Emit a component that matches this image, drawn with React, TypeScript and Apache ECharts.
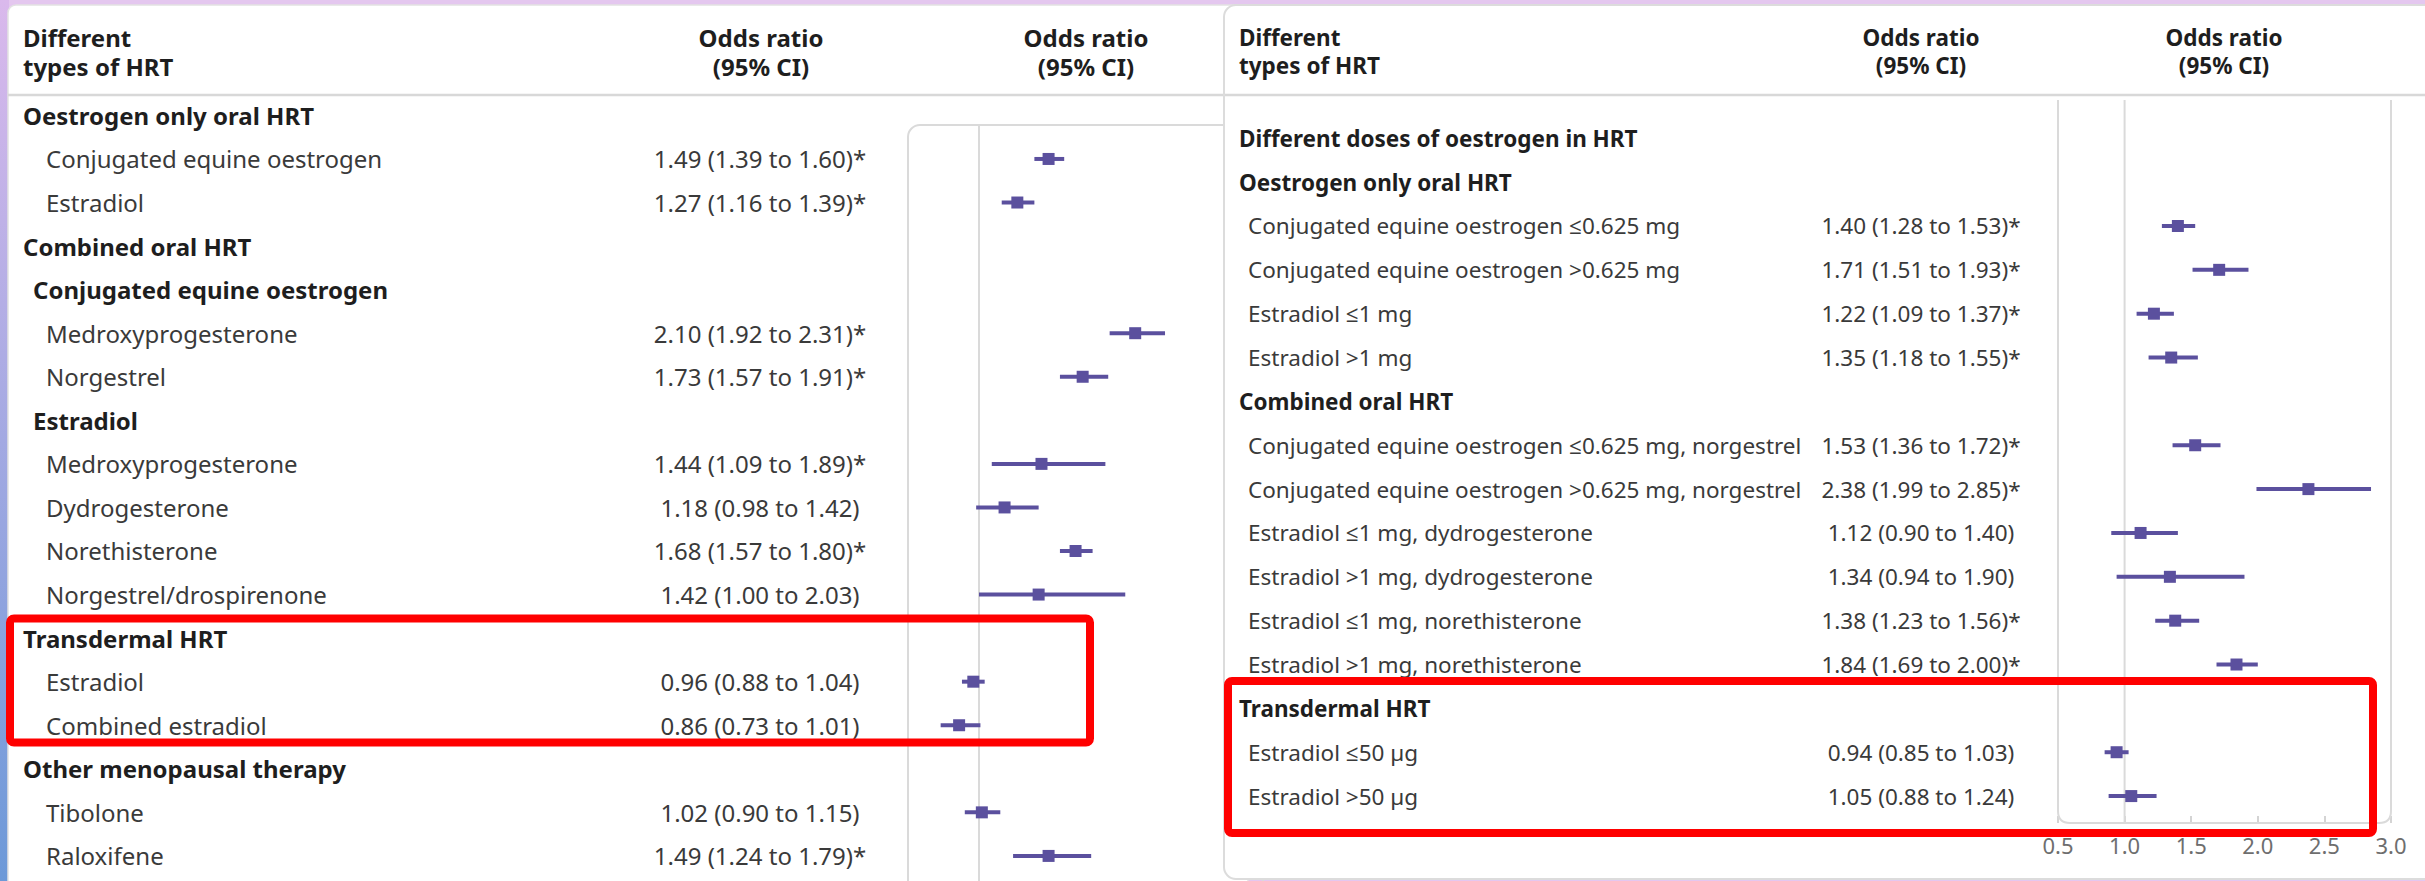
import React, { useEffect, useRef } from 'react';
import * as echarts from 'echarts';

// ---------- Data ----------
const TICKS = [0.5, 1.0, 1.5, 2.0, 2.5, 3.0];
const REF_VALUE = 1.0;

// level: 0 = group heading, 1 = sub heading, 2 = item
const leftLabels = [
  'Oestrogen only oral HRT',
  'Conjugated equine oestrogen',
  'Estradiol',
  'Combined oral HRT',
  'Conjugated equine oestrogen',
  'Medroxyprogesterone',
  'Norgestrel',
  'Estradiol',
  'Medroxyprogesterone',
  'Dydrogesterone',
  'Norethisterone',
  'Norgestrel/drospirenone',
  'Transdermal HRT',
  'Estradiol',
  'Combined estradiol',
  'Other menopausal therapy',
  'Tibolone',
  'Raloxifene',
];
const leftLevels = [0, 2, 2, 0, 1, 2, 2, 1, 2, 2, 2, 2, 0, 2, 2, 0, 2, 2];
const leftOR = [null, 1.49, 1.27, null, null, 2.10, 1.73, null, 1.44, 1.18, 1.68, 1.42, null, 0.96, 0.86, null, 1.02, 1.49];
const leftLo = [null, 1.39, 1.16, null, null, 1.92, 1.57, null, 1.09, 0.98, 1.57, 1.00, null, 0.88, 0.73, null, 0.90, 1.24];
const leftHi = [null, 1.60, 1.39, null, null, 2.31, 1.91, null, 1.89, 1.42, 1.80, 2.03, null, 1.04, 1.01, null, 1.15, 1.79];
const leftSig = [false, true, true, false, false, true, true, false, true, false, true, false, false, false, false, false, false, true];

const rightLabels = [
  'Different doses of oestrogen in HRT',
  'Oestrogen only oral HRT',
  'Conjugated equine oestrogen ≤0.625 mg',
  'Conjugated equine oestrogen >0.625 mg',
  'Estradiol ≤1 mg',
  'Estradiol >1 mg',
  'Combined oral HRT',
  'Conjugated equine oestrogen ≤0.625 mg, norgestrel',
  'Conjugated equine oestrogen >0.625 mg, norgestrel',
  'Estradiol ≤1 mg, dydrogesterone',
  'Estradiol >1 mg, dydrogesterone',
  'Estradiol ≤1 mg, norethisterone',
  'Estradiol >1 mg, norethisterone',
  'Transdermal HRT',
  'Estradiol ≤50 µg',
  'Estradiol >50 µg',
];
const rightLevels = [0, 0, 2, 2, 2, 2, 0, 2, 2, 2, 2, 2, 2, 0, 2, 2];
const rightOR = [null, null, 1.40, 1.71, 1.22, 1.35, null, 1.53, 2.38, 1.12, 1.34, 1.38, 1.84, null, 0.94, 1.05];
const rightLo = [null, null, 1.28, 1.51, 1.09, 1.18, null, 1.36, 1.99, 0.90, 0.94, 1.23, 1.69, null, 0.85, 0.88];
const rightHi = [null, null, 1.53, 1.93, 1.37, 1.55, null, 1.72, 2.85, 1.40, 1.90, 1.56, 2.00, null, 1.03, 1.24];
const rightSig = [false, false, true, true, true, true, false, true, true, false, false, true, true, false, false, false];

const headerLeft = 'Different\ntypes of HRT';
const headerOR = 'Odds ratio\n(95% CI)';

// ---------- Styles / layout ----------
const FONT = "'Noto Sans', 'Open Sans', sans-serif";
const BOLD_COLOR = '#1e1e1e';
const TEXT_COLOR = '#3a3a3a';
const MARK_COLOR = '#5b509e';
const FRAME_COLOR = '#dadada';

const X_MIN = TICKS[0];
const X_MAX = TICKS[TICKS.length - 1];

const LEFT = {
  grid: { left: 908, top: 125, width: 355, height: 756 },
  yMin: 0.2204,
  yMax: 17.5758,
  labelX: [23, 33, 46],
  orX: 760,
  headX: 23,
  orHeadX: [761, 1086],
  fs: 24,
  lh: 29,
};
const RIGHT = {
  grid: { left: 2058, top: 100, width: 333, height: 723 },
  yMin: -0.873,
  yMax: 15.614,
  labelX: [1239, 1239, 1248],
  orX: 1921,
  headX: 1239,
  orHeadX: [1921, 2224],
  fs: 22.5,
  lh: 28,
};

const fmt = (v: number) => v.toFixed(2);

function textSeries(idx: number, labels: string[], levels: number[], or: any[], lo: any[], hi: any[], sig: boolean[], cfg: any, z: number) {
  return {
    type: 'custom',
    xAxisIndex: idx,
    yAxisIndex: idx,
    z,
    silent: true,
    clip: false,
    data: labels.map((_, i) => [X_MIN, i]),
    renderItem: (params: any, api: any) => {
      const i = api.value(1);
      const y = api.coord([X_MIN, i])[1];
      const lvl = levels[i];
      const children: any[] = [
        {
          type: 'text',
          x: cfg.labelX[lvl],
          y,
          style: {
            text: labels[i],
            fill: lvl < 2 ? BOLD_COLOR : TEXT_COLOR,
            fontSize: cfg.fs,
            fontFamily: FONT,
            fontWeight: lvl < 2 ? 'bold' : 'normal',
            textAlign: 'left',
            textVerticalAlign: 'middle',
          },
        },
      ];
      if (or[i] != null) {
        children.push({
          type: 'text',
          x: cfg.orX,
          y,
          style: {
            text: `${fmt(or[i])} (${fmt(lo[i])} to ${fmt(hi[i])})${sig[i] ? '*' : ''}`,
            fill: TEXT_COLOR,
            fontSize: cfg.fs,
            fontFamily: FONT,
            textAlign: 'center',
            textVerticalAlign: 'middle',
          },
        });
      }
      return { type: 'group', children };
    },
  };
}

function forestSeries(idx: number, or: any[], lo: any[], hi: any[], z: number) {
  const data: any[] = [];
  or.forEach((v, i) => {
    if (v != null) data.push([v, i, lo[i], hi[i]]);
  });
  return {
    type: 'custom',
    xAxisIndex: idx,
    yAxisIndex: idx,
    z,
    silent: true,
    clip: false,
    encode: { x: 0, y: 1 },
    data,
    renderItem: (params: any, api: any) => {
      const p = api.coord([api.value(0), api.value(1)]);
      const a = api.coord([api.value(2), api.value(1)]);
      const b = api.coord([api.value(3), api.value(1)]);
      const s = 12;
      return {
        type: 'group',
        children: [
          {
            type: 'line',
            shape: { x1: a[0], y1: a[1], x2: b[0], y2: b[1] },
            style: { stroke: MARK_COLOR, lineWidth: 4 },
          },
          {
            type: 'rect',
            shape: { x: p[0] - s / 2, y: p[1] - s / 2, width: s, height: s },
            style: { fill: MARK_COLOR },
          },
        ],
      };
    },
  };
}

function frameSeries(idx: number, yMin: number, yMax: number, kind: 'left' | 'right', z: number) {
  return {
    type: 'custom',
    xAxisIndex: idx,
    yAxisIndex: idx,
    z,
    silent: true,
    clip: false,
    data: [[REF_VALUE, yMin]],
    renderItem: (params: any, api: any) => {
      const ref = api.value(0);
      const tl = api.coord([X_MIN, yMin]);
      const br = api.coord([X_MAX, yMax]);
      const rt = api.coord([ref, yMin]);
      const rb = api.coord([ref, yMax]);
      const r = 12;
      let box: any;
      if (kind === 'left') {
        box = {
          type: 'rect',
          shape: { x: tl[0], y: tl[1], width: br[0] - tl[0], height: br[1] - tl[1] + 30, r: [r, 0, 0, 0] },
          style: { fill: 'none', stroke: FRAME_COLOR, lineWidth: 2 },
        };
      } else {
        const L = tl[0], T = tl[1], R = br[0], B = br[1];
        const d = `M${L},${T} L${L},${B - r} Q${L},${B} ${L + r},${B} L${R - r},${B} Q${R},${B} ${R},${B - r} L${R},${T}`;
        box = {
          type: 'path',
          shape: { pathData: d },
          style: { fill: 'none', stroke: FRAME_COLOR, lineWidth: 2 },
        };
      }
      return {
        type: 'group',
        children: [
          box,
          {
            type: 'line',
            shape: { x1: rt[0], y1: rt[1], x2: rb[0], y2: rb[1] + (kind === 'left' ? 30 : 0) },
            style: { stroke: FRAME_COLOR, lineWidth: 2 },
          },
        ],
      };
    },
  };
}

function headerTexts(cfg: any, z: number) {
  const els: any[] = [];
  const yMid = 51.5;
  els.push({
    type: 'text', z, x: cfg.headX, y: yMid,
    style: { text: headerLeft, fill: BOLD_COLOR, fontSize: cfg.fs, lineHeight: cfg.lh, fontFamily: FONT, fontWeight: 'bold', textAlign: 'left', textVerticalAlign: 'middle' },
  });
  cfg.orHeadX.forEach((x: number) => {
    els.push({
      type: 'text', z, x, y: yMid,
      style: { text: headerOR, fill: BOLD_COLOR, fontSize: cfg.fs, lineHeight: cfg.lh, fontFamily: FONT, fontWeight: 'bold', textAlign: 'center', textVerticalAlign: 'middle' },
    });
  });
  return els;
}

export default function App() {
  const ref = useRef<HTMLDivElement>(null);
  useEffect(() => {
    document.body.style.margin = '0';
    document.body.style.overflow = 'hidden';
    if (!ref.current) return;
    const chart = echarts.init(ref.current, null, { renderer: 'svg' });

    const yAxisBase = { type: 'value', inverse: true, show: false };
    const option: any = {
      animation: false,
      backgroundColor: '#ffffff',
      grid: [
        { ...LEFT.grid, show: false },
        { ...RIGHT.grid, show: false, z: 12 },
      ],
      xAxis: [
        { gridIndex: 0, type: 'value', min: X_MIN, max: X_MAX, show: false, axisLine: { onZero: false } },
        {
          gridIndex: 1,
          type: 'value',
          position: 'bottom',
          min: X_MIN,
          max: X_MAX,
          interval: TICKS[1] - TICKS[0],
          z: 12,
          axisLine: { show: false, onZero: false },
          splitLine: { show: false },
          axisTick: { show: true, inside: true, length: 7, lineStyle: { color: '#d4d4d4', width: 2 } },
          axisLabel: {
            show: true,
            margin: 11,
            color: '#6e6e6e',
            fontSize: 22,
            fontFamily: FONT,
            formatter: (v: number) => v.toFixed(1),
          },
        },
      ],
      yAxis: [
        { ...yAxisBase, gridIndex: 0, min: LEFT.yMin, max: LEFT.yMax },
        { ...yAxisBase, gridIndex: 1, min: RIGHT.yMin, max: RIGHT.yMax },
      ],
      graphic: {
        elements: [
          // background accents
          { type: 'rect', z: 0, shape: { x: 0, y: 0, width: 2425, height: 881 }, style: { fill: '#e4c7ef' } },
          {
            type: 'rect', z: 0, shape: { x: 0, y: 0, width: 9, height: 881 },
            style: {
              fill: new echarts.graphic.LinearGradient(0, 0, 0, 1, [
                { offset: 0, color: '#dab9ec' },
                { offset: 1, color: '#6c99d8' },
              ]),
            },
          },
          // left panel
          { type: 'rect', z: 1, shape: { x: 8, y: 5, width: 1240, height: 900, r: 8 }, style: { fill: '#ffffff', stroke: '#e2e2e2', lineWidth: 1.5 } },
          { type: 'line', z: 1, shape: { x1: 8, y1: 95, x2: 1224, y2: 95 }, style: { stroke: '#d8d8d8', lineWidth: 2.5 } },
          ...headerTexts(LEFT, 1),
          // right panel
          { type: 'rect', z: 10, shape: { x: 1224, y: 5, width: 1220, height: 874, r: 12 }, style: { fill: '#ffffff', stroke: '#dcdcdc', lineWidth: 2 } },
          { type: 'line', z: 12, shape: { x1: 1225, y1: 95, x2: 2425, y2: 95 }, style: { stroke: '#d8d8d8', lineWidth: 2.5 } },
          ...headerTexts(RIGHT, 12),
          // highlight boxes
          { type: 'rect', z: 50, shape: { x: 10, y: 618.5, width: 1080, height: 124, r: 4 }, style: { fill: 'none', stroke: '#ff0000', lineWidth: 8 } },
          { type: 'rect', z: 50, shape: { x: 1228, y: 681, width: 1145, height: 152, r: 4 }, style: { fill: 'none', stroke: '#ff0000', lineWidth: 8 } },
        ],
      },
      series: [
        frameSeries(0, LEFT.yMin, LEFT.yMax, 'left', 3),
        forestSeries(0, leftOR, leftLo, leftHi, 4),
        textSeries(0, leftLabels, leftLevels, leftOR, leftLo, leftHi, leftSig, LEFT, 4),
        frameSeries(1, RIGHT.yMin, RIGHT.yMax, 'right', 13),
        forestSeries(1, rightOR, rightLo, rightHi, 14),
        textSeries(1, rightLabels, rightLevels, rightOR, rightLo, rightHi, rightSig, RIGHT, 14),
      ],
    };
    chart.setOption(option);
    return () => chart.dispose();
  }, []);
  return <div ref={ref} style={{ width: 2425, height: 881 }} />;
}
